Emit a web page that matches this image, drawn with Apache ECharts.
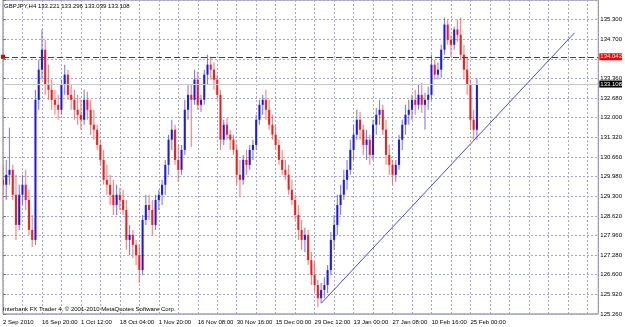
<!DOCTYPE html>
<html><head><meta charset="utf-8">
<script src="https://cdn.jsdelivr.net/npm/echarts@6/dist/echarts.min.js"></script>
<style>html,body{margin:0;padding:0;background:#fff}#c{width:625px;height:327px}</style>
</head><body><div id="c"></div>
<script>
const headerText = 'GBPJPY,H4 133.221 133.296 133.039 133.108';
const footerText = 'Interbank FX Trader 4, \u00a9 2001-2010 MetaQuotes Software Corp.';
const xLabels = ['2 Sep 2010','16 Sep 20:00','1 Oct 12:00','18 Oct 04:00','1 Nov 20:00','16 Nov 08:00','30 Nov 16:00','15 Dec 00:00','29 Dec 12:00','13 Jan 00:00','27 Jan 08:00','10 Feb 16:00','25 Feb 00:00'];
const yLabels = ['125.260','125.920','126.600','127.280','127.960','128.620','129.300','129.980','130.660','131.320','132.000','132.680','133.360','','134.700','135.300'];

const open = [129.84,129.67,130.01,130.18,129.33,128.30,129.33,129.67,129.15,128.13,
127.79,132.57,133.60,134.28,133.09,132.91,132.57,132.40,132.23,133.09,
133.43,132.74,132.57,132.23,132.06,131.89,132.57,132.23,131.72,131.55,
131.03,130.52,129.84,129.67,129.33,128.98,129.33,129.15,128.81,127.79,
127.96,127.62,127.27,126.76,128.47,128.98,128.81,128.30,129.15,129.33,
129.67,130.35,131.21,131.55,130.52,130.18,130.86,132.23,132.74,132.57,
133.26,132.40,132.57,133.43,133.77,133.60,133.26,132.74,131.21,131.72,
131.38,131.21,130.86,130.01,129.84,130.52,130.35,130.86,131.03,131.89,
132.40,132.57,132.23,131.72,131.38,131.03,130.52,130.18,130.01,129.50,
129.15,128.64,128.13,127.79,127.96,127.10,126.59,126.25,125.80,126.08,
126.25,126.76,127.79,128.30,128.98,129.33,129.84,130.18,130.86,131.38,
131.89,131.55,131.03,131.21,130.69,131.72,132.06,132.23,131.55,130.69,
130.35,130.01,130.35,131.21,131.72,132.06,132.23,132.57,132.40,132.74,
132.40,132.57,132.74,133.77,133.43,133.60,134.28,135.14,134.62,134.45,
134.97,134.79,134.11,133.60,133.09,131.89,131.55];
const high = [130.35,130.52,131.62,130.35,130.01,129.67,130.01,130.18,129.50,128.64,
132.91,133.94,134.97,134.62,133.77,133.26,132.91,132.74,133.26,133.77,
133.60,133.09,132.91,132.74,132.57,132.91,132.85,132.57,132.23,131.72,
131.21,130.86,130.35,130.01,129.84,129.67,129.56,129.50,129.15,128.30,
128.13,127.79,127.62,128.64,129.33,129.33,129.15,129.33,129.50,129.84,
130.52,131.38,131.89,131.72,131.03,131.03,132.57,133.09,133.09,133.60,
133.53,132.74,133.60,134.11,134.01,133.84,133.43,132.91,131.89,131.96,
131.55,131.38,131.03,130.52,130.69,130.86,131.03,131.21,132.06,132.57,
132.74,132.91,132.57,132.06,131.72,131.21,130.86,130.52,130.35,129.84,
129.33,128.98,128.47,128.20,128.13,127.38,127.04,126.42,126.32,126.52,
126.93,128.06,128.64,129.33,129.67,130.18,130.52,131.21,131.72,132.23,
132.16,131.72,131.55,131.38,131.89,132.30,132.57,132.40,131.89,131.03,
130.52,130.52,131.38,131.89,132.40,132.57,132.74,132.91,133.09,133.15,
132.81,133.02,134.11,133.94,133.84,134.45,135.38,135.31,134.79,135.07,
135.31,135.38,134.45,134.04,133.26,132.23,133.296];
const low = [129.33,129.15,129.67,129.15,127.79,128.13,128.98,128.81,127.96,127.55,
127.62,132.23,133.26,132.74,132.57,132.23,132.06,131.89,132.06,132.74,
132.57,132.23,131.89,131.72,131.55,131.72,131.89,131.38,131.21,130.86,
130.35,129.67,129.33,128.98,128.64,128.64,128.81,128.64,127.45,127.27,
127.17,126.93,126.32,126.59,128.30,128.47,127.96,128.13,128.81,128.98,
129.33,130.01,130.86,130.35,129.77,130.01,130.69,131.89,130.97,132.40,
132.23,132.16,132.40,133.09,133.26,132.91,132.57,130.86,131.03,131.21,
130.86,130.69,129.67,129.26,129.67,130.01,130.18,130.52,130.86,131.72,
132.06,131.89,131.55,131.21,130.86,130.35,130.01,129.84,129.33,128.98,
128.47,127.79,127.45,127.38,126.93,126.25,126.01,125.50,125.63,125.80,
125.98,126.59,127.45,127.96,128.64,129.15,129.50,130.01,130.52,131.21,
131.21,130.69,130.52,130.35,130.52,131.38,131.72,131.38,130.35,130.01,
129.67,129.77,130.18,130.86,131.38,131.72,131.89,132.06,132.23,132.13,
131.55,132.23,132.57,133.26,133.26,133.32,134.11,134.45,134.04,134.28,
134.55,133.94,133.26,132.74,131.55,131.21,131.21];
const close = [129.67,130.01,130.18,129.33,128.30,129.33,129.67,129.15,128.13,127.79,
132.57,133.60,134.28,133.09,132.91,132.57,132.40,132.23,133.09,133.43,
132.74,132.57,132.23,132.06,131.89,132.57,132.23,131.72,131.55,131.03,
130.52,129.84,129.67,129.33,128.98,129.33,129.15,128.81,127.79,127.96,
127.62,127.27,126.76,128.47,128.98,128.81,128.30,129.15,129.33,129.67,
130.35,131.21,131.55,130.52,130.18,130.86,132.23,132.74,132.57,133.26,
132.40,132.57,133.43,133.77,133.60,133.26,132.74,131.21,131.72,131.38,
131.21,130.86,130.01,129.84,130.52,130.35,130.86,131.03,131.89,132.40,
132.57,132.23,131.72,131.38,131.03,130.52,130.18,130.01,129.50,129.15,
128.64,128.13,127.79,127.96,127.10,126.59,126.25,125.80,126.08,126.25,
126.76,127.79,128.30,128.98,129.33,129.84,130.18,130.86,131.38,131.89,
131.55,131.03,131.21,130.69,131.72,132.06,132.23,131.55,130.69,130.35,
130.01,130.35,131.21,131.72,132.06,132.23,132.57,132.40,132.74,132.40,
132.57,132.74,133.77,133.43,133.60,134.28,135.14,134.62,134.45,134.97,
134.79,134.11,133.60,133.09,131.89,131.55,133.108];

const levelPrice = 134.042;
const bidPrice = 133.108;
const trendX = [98.1, 176.1];
const trendY = [125.63, 134.86];

// axis set-up
const barsPerLabel = 12;
const xMax = 183.4;
const yBase = 125.26;
const yStep = 0.66984;
const yMax = yBase + 16 * yStep;

const FONT = "'Liberation Sans',Arial,sans-serif";
const FS = 6;
const gridLine = {color: '#a3a7cc', type: [2, 2], width: 1};

const chart = echarts.init(document.getElementById('c'), null, {renderer: 'canvas'});
const ohlc = open.map((o, i) => [i, o, high[i], low[i], close[i]]);

chart.setOption({
  animation: false,
  backgroundColor: '#ffffff',
  grid: {left: 2, right: 23, top: 0, bottom: 13, show: true, borderColor: '#777777', borderWidth: 1, backgroundColor: '#ffffff'},
  xAxis: {
    type: 'value', min: 0, max: xMax, interval: barsPerLabel / 2,
    axisLine: {show: false}, axisTick: {show: false},
    axisLabel: {
      show: true, align: 'left', margin: 5, fontSize: FS, fontFamily: FONT, color: '#000',
      showMinLabel: true, showMaxLabel: false, hideOverlap: false,
      formatter: v => {
        const k = Math.round(v / barsPerLabel);
        if (Math.abs(v - k * barsPerLabel) > 0.5) return '';
        return xLabels[k] || '';
      }
    },
    splitLine: {show: true, lineStyle: gridLine}
  },
  yAxis: {
    type: 'value', position: 'right', min: yBase, max: yMax, interval: yStep,
    axisLine: {show: false},
    axisTick: {show: true, length: 3, lineStyle: {color: '#777777'}},
    axisLabel: {
      show: true, align: 'left', margin: 2, fontSize: FS, fontFamily: FONT, color: '#000',
      showMinLabel: true, showMaxLabel: true, hideOverlap: false,
      formatter: v => {
        const k = Math.round((v - yBase) / yStep);
        if (Math.abs(v - (yBase + k * yStep)) > yStep * 0.2) return '';
        return yLabels[k] || '';
      }
    },
    splitLine: {show: true, lineStyle: gridLine}
  },
  graphic: [
    {type: 'text', left: 4, top: 3, z: 100, style: {text: headerText, font: FS + 'px ' + FONT, fill: '#000'}},
    {type: 'text', left: 3, top: 306, z: 100, style: {text: footerText, font: FS + 'px ' + FONT, fill: '#000'}}
  ],
  series: [
    {
      type: 'custom', name: 'GBPJPY', data: ohlc, clip: true,
      encode: {x: 0, y: [1, 2, 3, 4]},
      renderItem: (params, api) => {
        const i = api.value(0), o = api.value(1), h = api.value(2), l = api.value(3), c = api.value(4);
        const pH = api.coord([i, h]), pL = api.coord([i, l]), pO = api.coord([i, o]), pC = api.coord([i, c]);
        const up = c >= o;
        const w = api.size([1, 0])[0];
        const x = pH[0];
        const top = Math.min(pO[1], pC[1]);
        return {type: 'group', children: [
          {type: 'line', shape: {x1: x, y1: pH[1], x2: x, y2: pL[1]},
           style: {stroke: up ? '#5a5aff' : '#ff5a5a', lineWidth: 1.1, opacity: 0.8}},
          {type: 'rect', shape: {x: x - w * 0.32, y: top, width: w * 0.64, height: Math.max(1.5, Math.abs(pO[1] - pC[1]))},
           style: {fill: up ? '#0a0aff' : '#ff0a0a', opacity: 0.9}}
        ]};
      }
    },
    {
      type: 'line', name: 'trend', data: trendX.map((x, i) => [x, trendY[i]]),
      symbol: 'none', lineStyle: {color: '#4848ff', width: 1}, z: 5, silent: true,
      markLine: {
        silent: true, symbol: ['none', 'none'], animation: false,
        data: [
          {yAxis: levelPrice, symbol: ['emptyRect', 'emptyRect'], symbolSize: 4,
           itemStyle: {color: '#ff0000'},
           lineStyle: {color: '#dd0000', type: [6, 3], width: 1},
           label: {show: true, position: 'end', distance: 1, formatter: levelPrice.toFixed(3),
             color: '#fff', backgroundColor: '#ff0000', padding: [1, 0, 0, 1], fontSize: FS, fontFamily: FONT}},
          {yAxis: bidPrice,
           lineStyle: {color: '#c8c8c8', type: 'solid', width: 1},
           label: {show: true, position: 'end', distance: 1, formatter: bidPrice.toFixed(3),
             color: '#fff', backgroundColor: '#000', padding: [1, 0, 0, 1], fontSize: FS, fontFamily: FONT}}
        ]
      }
    }
  ]
});
</script>
</body></html>
